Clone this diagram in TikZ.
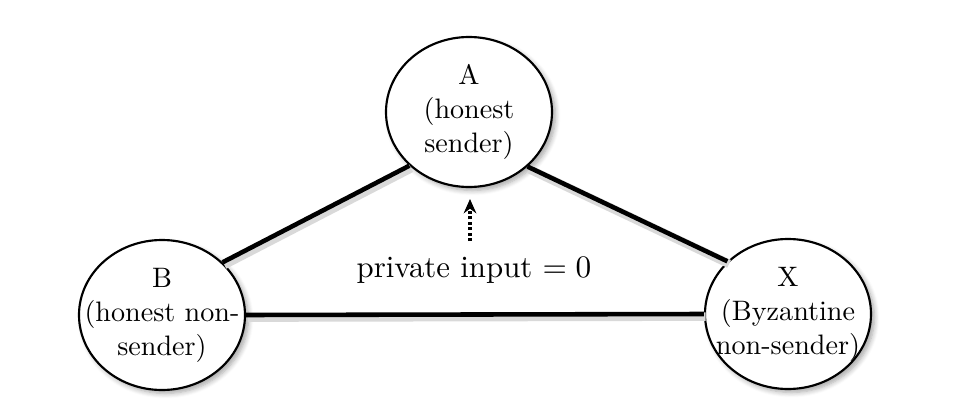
\documentclass[tikz,border=0pt]{standalone}
\usetikzlibrary{arrows.meta,shapes.geometric,shadows.blur}
\begin{document}
\begin{tikzpicture}[x=0.35pt,y=-0.35pt,
  party/.style={ellipse,draw,line width=0.75pt,fill=white,
    minimum width=166*0.35pt,minimum height=150*0.35pt,inner sep=-30pt,
    align=center,font=\fontsize{9.85}{11.9}\selectfont,
    blur shadow={shadow xshift=1.2pt,shadow yshift=-1.2pt,shadow blur steps=6,shadow opacity=35}},
  link/.style={line width=1.6pt},
  linkshadow/.style={line width=3pt,black!15,transform canvas={xshift=0.6pt,yshift=-0.9pt}},
  inputarrow/.style={dash pattern=on 1pt off 0.9pt,line width=1.1pt,-{Stealth[length=5pt,width=4.4pt]}},
]
\useasboundingbox (0,0) rectangle (978,400);
\node[party] (A) at (469,112) {A\\(honest\\sender)};
\node[party] (B) at (162,315) {B\\(honest non-\\sender)};
\node[party] (X) at (788,314) {X\\(Byzantine\\non-sender)};
\draw[linkshadow] (A.222) -- (B.41);
\draw[linkshadow] (A.317) -- (X.139);
\draw[linkshadow] (B.east) -- (X.west);
\draw[link] (A.222) -- (B.41);
\draw[link] (A.317) -- (X.139);
\draw[link] (B.east) -- (X.west);
\node[font=\fontsize{10.8}{13}\selectfont] (lbl) at (474,270) {private input $=0$};
\coordinate (tail) at (470,241);
\coordinate (tip) at (470,199);
\draw[inputarrow] (tail) -- (tip);
\end{tikzpicture}
\end{document}
